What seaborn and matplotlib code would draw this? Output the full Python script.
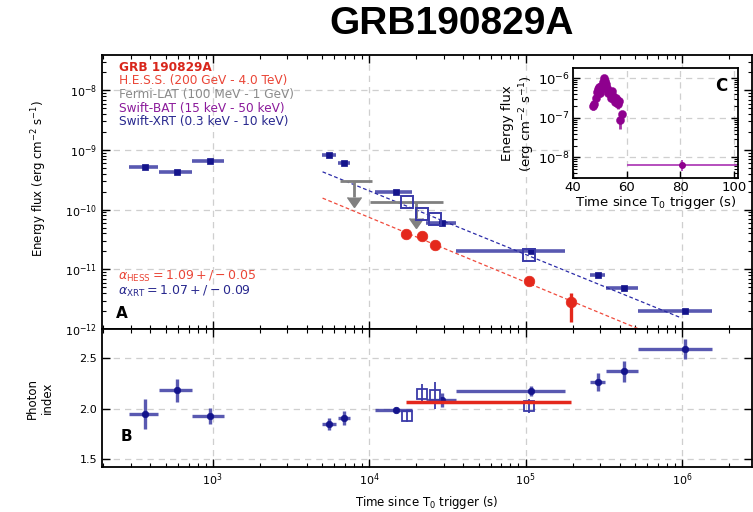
import numpy as np
import matplotlib
matplotlib.use("Agg")
import matplotlib.pyplot as plt
import seaborn as sns
import pandas as pd

# ---------------- data ----------------
# Swift-XRT (filled markers)
xrt_t = [368, 589, 955, 5500, 6950, 14900, 29400, 1.09e5, 2.9e5, 4.27e5, 1.04e6]
xrt_tlo = [291, 452, 735, 5010, 6310, 10960, 23230, 36060, 2.57e5, 3.27e5, 5.25e5]
xrt_thi = [446, 735, 1175, 6170, 7590, 18880, 36060, 1.79e5, 3.24e5, 5.25e5, 1.55e6]
xrt_flux = [5.2e-10, 4.3e-10, 6.5e-10, 8.2e-10, 6.0e-10, 1.97e-10, 5.9e-11,
            2.04e-11, 7.9e-12, 4.8e-12, 2.04e-12]
xrt_index = [1.95, 2.18, 1.93, 1.845, 1.905, 1.99, 2.085, 2.17, 2.26, 2.37, 2.59]
xrt_index_err = [0.15, 0.11, 0.08, 0.06, 0.07, 0.03, 0.07, 0.05, 0.09, 0.105, 0.1]

# Swift-XRT in H.E.S.S. windows (open squares)
xsq_t = [17500, 21900, 26500, 1.05e5]
xsq_flux = [1.34e-10, 8.4e-11, 6.9e-11, 1.73e-11]
xsq_index = [1.926, 2.148, 2.13, 2.03]
xsq_index_err = [0.06, 0.10, 0.13, 0.07]

# H.E.S.S.
hess_t = [17300, 21900, 26500, 1.05e5, 1.95e5]
hess_flux = [3.96e-11, 3.57e-11, 2.6e-11, 6.3e-12, 2.8e-12]
hess_flux_lo = [0.4e-11, 0.35e-11, 0.3e-11, 0.8e-12, 1.5e-12]
hess_flux_hi = [0.4e-11, 0.35e-11, 0.3e-11, 0.8e-12, 1.2e-12]
hess_index = [2.07]
hess_index_tlo = [17300]
hess_index_thi = [1.95e5]

# Fermi-LAT upper limits
lat_t = [8050, 20000]
lat_tlo = [6460, 10190]
lat_thi = [10470, 29800]
lat_flux = [3.0e-10, 1.34e-10]
lat_arrow_end = [1.6e-10, 7.2e-11]

# decay fits (end points)
xrt_fit_t = [5035, 9.8e5]
xrt_fit_f = [4.3e-10, 1.55e-12]
hess_fit_t = [5035, 5.3e5]
hess_fit_f = [1.56e-10, 1.0e-12]

# Swift-BAT (inset)
bat_t = [47.6, 48.0, 48.5, 49.0, 49.4, 49.8, 50.2, 50.6, 51.0, 51.3, 51.6,
         52.0, 52.4, 52.8, 53.2, 53.6, 54.0, 54.4, 54.8, 55.2, 55.6, 56.0,
         56.4, 56.8, 57.1, 57.4, 58.3]
bat_flux = [2.0e-7, 2.3e-7, 3.2e-7, 4.5e-7, 5.2e-7, 6.0e-7, 4.2e-7, 6.5e-7,
            5.5e-7, 8.0e-7, 1.0e-6, 8.5e-7, 7.0e-7, 5.5e-7, 4.2e-7, 4.5e-7,
            3.2e-7, 4.8e-7, 3.5e-7, 3.0e-7, 2.5e-7, 3.2e-7, 2.8e-7, 2.2e-7,
            2.6e-7, 9.0e-8, 1.25e-7]
bat_err = [0.4e-7, 0.5e-7, 0.7e-7, 0.9e-7, 1.0e-7, 1.2e-7, 0.9e-7, 1.3e-7,
           1.1e-7, 1.6e-7, 2.0e-7, 1.7e-7, 1.4e-7, 1.1e-7, 0.9e-7, 0.9e-7,
           0.7e-7, 1.0e-7, 0.7e-7, 0.6e-7, 0.5e-7, 0.6e-7, 0.6e-7, 0.5e-7,
           0.5e-7, 3.8e-8, 2.5e-8]
bat_late_t = [80.5]
bat_late_tlo = [60.0]
bat_late_thi = [101.0]
bat_late_flux = [6.5e-9]
bat_late_err = [2.0e-9]

# ---------------- style ----------------
sns.set_style("ticks", {"xtick.direction": "in", "ytick.direction": "in",
                        "axes.edgecolor": "black", "text.color": "black",
                        "axes.labelcolor": "black", "xtick.color": "black",
                        "ytick.color": "black"})
plt.rcParams["font.family"] = ["DejaVu Sans"]
plt.rcParams["axes.linewidth"] = 1.3

navy = "#14148c"
navy_bar = "#2a2a9c"
red = "#e4281c"
gray = "#808080"
purple = "#8e008e"
gridkw = dict(color="#cfcfcf", linestyle=(0, (5, 4)), linewidth=0.9)

fig = plt.figure(figsize=(7.53, 5.12), dpi=100)
axA = fig.add_axes([0.1355, 0.3574, 0.8632, 0.5352])
axB = fig.add_axes([0.1355, 0.0879, 0.8632, 0.2695], sharex=axA)

xmin, xmax = 196, 2.8e6

# ---- Panel A ----
xrt_df = pd.DataFrame({"t": xrt_t, "flux": xrt_flux, "index": xrt_index})
hess_df = pd.DataFrame({"t": hess_t, "flux": hess_flux})

axA.plot(xrt_fit_t, xrt_fit_f, color="#2b2ba8", ls=(0, (3, 2)), lw=0.9, zorder=2)
axA.plot(hess_fit_t, hess_fit_f, color="#f04a3c", ls=(0, (3, 2)), lw=0.9, zorder=2)

axA.errorbar(xrt_t, xrt_flux,
             xerr=[np.array(xrt_t) - np.array(xrt_tlo), np.array(xrt_thi) - np.array(xrt_t)],
             fmt="none", ecolor=navy_bar, elinewidth=2.6, alpha=0.78, zorder=3)
sns.scatterplot(data=xrt_df, x="t", y="flux", ax=axA, marker="s", s=22,
                color=navy, edgecolor=navy, linewidth=0.5, zorder=4)

axA.plot(xsq_t, xsq_flux, ls="none", marker="s", ms=8.5, mfc="none",
         mec="#3a3aa8", mew=1.4, zorder=5)

# Fermi-LAT upper limits
axA.errorbar(lat_t, lat_flux,
             xerr=[np.array(lat_t) - np.array(lat_tlo), np.array(lat_thi) - np.array(lat_t)],
             fmt="none", ecolor=gray, elinewidth=2.0, zorder=3)
axA.errorbar(lat_t, lat_flux,
             yerr=np.array(lat_flux) - np.array(lat_arrow_end),
             uplims=True, fmt="none", color=gray, ecolor=gray, elinewidth=2.0,
             capsize=5, zorder=3)

axA.errorbar(hess_t, hess_flux, yerr=[hess_flux_lo, hess_flux_hi], fmt="none",
             ecolor=red, elinewidth=2.4, zorder=5)
sns.scatterplot(data=hess_df, x="t", y="flux", ax=axA, marker="o", s=58,
                color=red, edgecolor=red, linewidth=0.5, zorder=6)

axA.set_xscale("log")
axA.set_yscale("log")
axA.set_xlim(xmin, xmax)
axA.set_ylim(1e-12, 3.9e-8)
axA.set_xlabel("")
axA.set_ylabel("Energy flux (erg cm$^{-2}$ s$^{-1}$)", fontsize=8.5)
axA.yaxis.set_label_coords(-0.081, 0.55)
axA.yaxis.set_minor_locator(matplotlib.ticker.LogLocator(base=10, subs=np.arange(2, 10), numticks=50))
axA.yaxis.set_minor_formatter(matplotlib.ticker.NullFormatter())
axA.xaxis.set_minor_locator(matplotlib.ticker.LogLocator(base=10, subs=np.arange(2, 10), numticks=50))
axA.xaxis.set_minor_formatter(matplotlib.ticker.NullFormatter())
axA.tick_params(which="both", direction="in", top=True, right=True, labelsize=8)
axA.tick_params(which="major", length=6, width=1)
axA.tick_params(which="minor", length=3, width=0.8)
axA.tick_params(axis="x", labelbottom=False)
axA.set_yticks([1e-12, 1e-11, 1e-10, 1e-9, 1e-8])
axA.grid(True, which="major", **gridkw)
axA.set_axisbelow(True)

# text legend
leg_items = [("GRB 190829A", "#d8261b", "bold"),
             ("H.E.S.S. (200 GeV - 4.0 TeV)", "#ea4536", "normal"),
             ("Fermi-LAT (100 MeV - 1 GeV)", "#8a8a8a", "normal"),
             ("Swift-BAT (15 keV - 50 keV)", "#8b1a9b", "normal"),
             ("Swift-XRT (0.3 keV - 10 keV)", "#28288e", "normal")]
y0 = 0.955
for i, (txt, c, w) in enumerate(leg_items):
    axA.text(0.026, y0 - i * 0.0495, txt, color=c, fontweight=w, fontsize=8.7,
             transform=axA.transAxes, va="center", ha="left")

axA.text(0.024, 0.192, r"$\alpha_{\rm HESS} = 1.09 + / - 0.05$", color="#ea4536",
         fontsize=9, transform=axA.transAxes, va="center")
axA.text(0.024, 0.137, r"$\alpha_{\rm XRT} = 1.07 + / - 0.09$", color="#28288e",
         fontsize=9, transform=axA.transAxes, va="center")
axA.text(0.022, 0.055, "A", fontsize=11, fontweight="bold", color="black",
         transform=axA.transAxes, va="center")

# ---- Panel B ----
axB.errorbar(xrt_t, xrt_index,
             xerr=[np.array(xrt_t) - np.array(xrt_tlo), np.array(xrt_thi) - np.array(xrt_t)],
             yerr=xrt_index_err, fmt="none", ecolor=navy_bar, elinewidth=2.4,
             alpha=0.78, zorder=3)
sns.scatterplot(data=xrt_df, x="t", y="index", ax=axB, marker="o", s=22,
                color=navy, edgecolor=navy, linewidth=0.5, zorder=4)
axB.errorbar(xsq_t, xsq_index, yerr=xsq_index_err, fmt="s", ms=7.5, mfc="none",
             mec="#3a3aa8", mew=1.3, ecolor="#3a3aa8", elinewidth=1.3, zorder=5)
axB.hlines(hess_index, hess_index_tlo, hess_index_thi, color=red, lw=2.5, zorder=6)

axB.set_xscale("log")
axB.set_xlim(xmin, xmax)
axB.set_ylim(1.42, 2.79)
axB.set_yticks([1.5, 2.0, 2.5])
axB.set_ylabel("Photon\nindex", fontsize=8.5)
axB.yaxis.set_label_coords(-0.074, 0.5)
axB.set_xlabel("Time since T$_0$ trigger (s)", fontsize=8.5)
axB.tick_params(which="both", direction="in", top=True, right=True, labelsize=8)
axB.tick_params(which="major", length=6, width=1)
axB.tick_params(which="minor", length=3, width=0.8)
axB.grid(True, which="major", **gridkw)
axB.set_axisbelow(True)
axB.text(0.028, 0.22, "B", fontsize=11, fontweight="bold", color="black",
         transform=axB.transAxes, va="center")

# ---- Inset C ----
axC = fig.add_axes([0.761, 0.652, 0.219, 0.215])
bat_df = pd.DataFrame({"t": bat_t, "flux": bat_flux})
axC.errorbar(bat_t, bat_flux, yerr=bat_err, fmt="none", ecolor=purple,
             elinewidth=2.0, alpha=0.8, zorder=3)
sns.scatterplot(data=bat_df, x="t", y="flux", ax=axC, marker="o", s=34,
                color=purple, edgecolor=purple, linewidth=0.3, zorder=4)
axC.errorbar(bat_late_t, bat_late_flux,
             xerr=[np.array(bat_late_t) - np.array(bat_late_tlo),
                   np.array(bat_late_thi) - np.array(bat_late_t)],
             yerr=bat_late_err, fmt="o", ms=4, color=purple, ecolor="#b040b8",
             elinewidth=1.3, zorder=4)
axC.set_yscale("log")
axC.set_xlim(40, 101.5)
axC.set_ylim(3e-9, 1.8e-6)
axC.set_xticks([40, 60, 80, 100])
axC.set_yticks([1e-8, 1e-7, 1e-6])
axC.yaxis.set_minor_locator(matplotlib.ticker.LogLocator(base=10, subs=np.arange(2, 10), numticks=50))
axC.yaxis.set_minor_formatter(matplotlib.ticker.NullFormatter())
axC.set_xlabel("Time since T$_0$ trigger (s)", fontsize=9.5, labelpad=0)
axC.set_ylabel("Energy flux\n(erg cm$^{-2}$ s$^{-1}$)", fontsize=9.5, labelpad=1)
axC.tick_params(which="both", direction="in", right=True, labelsize=9.5, pad=2)
axC.tick_params(which="major", length=5, width=1)
axC.tick_params(which="minor", length=3, width=0.8)
axC.grid(True, which="major", **gridkw)
axC.set_axisbelow(True)
axC.text(0.9, 0.84, "C", fontsize=12, fontweight="bold", color="black",
         transform=axC.transAxes, va="center", ha="center")

fig.text(0.6, 0.953, "GRB190829A", fontsize=28, fontweight="bold", color="black",
         family=["Liberation Sans", "DejaVu Sans"], ha="center", va="center")

fig.savefig("out.png", dpi=100)
